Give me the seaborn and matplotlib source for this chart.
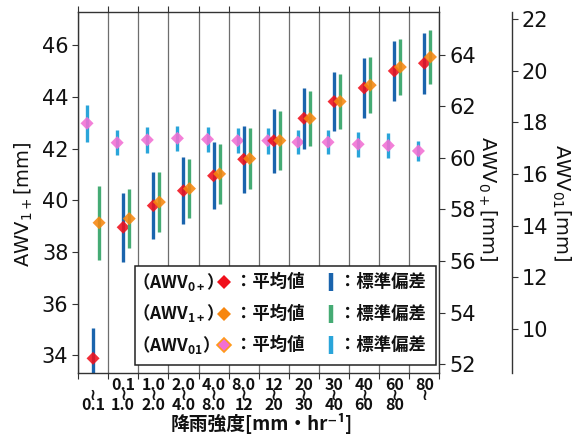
import numpy as np
import matplotlib
matplotlib.use("Agg")
import matplotlib.pyplot as plt
import seaborn as sns
from matplotlib.patches import Rectangle

# rainfall-intensity classes [mm/hr] (lower / upper bound of each class)
class_low = ["", "0.1", "1.0", "2.0", "4.0", "8.0", "12", "20", "30", "40", "60", "80"]
class_high = ["0.1", "1.0", "2.0", "4.0", "8.0", "12", "20", "30", "40", "60", "80", ""]

# AWV0+ (right axis 1)
awv0p_mean = [52.22, 57.31, 58.15, 58.73, 59.31, 59.95, 60.67, 61.54, 62.19, 62.72, 63.38, 63.68]
awv0p_sd = [1.19, 1.33, 1.31, 1.30, 1.30, 1.30, 1.24, 1.18, 1.14, 1.16, 1.18, 1.19]
# AWV1+ (left axis)
awv1p_mean = [39.13, 39.29, 39.93, 40.45, 41.02, 41.61, 42.31, 43.16, 43.82, 44.45, 45.15, 45.54]
awv1p_sd = [1.44, 1.14, 1.15, 1.15, 1.16, 1.18, 1.13, 1.08, 1.06, 1.07, 1.07, 1.05]
# AWV01 (right axis 2)
awv01_mean = [17.96, 17.21, 17.32, 17.38, 17.34, 17.29, 17.29, 17.23, 17.23, 17.15, 17.10, 16.89]
awv01_sd = [0.72, 0.49, 0.49, 0.49, 0.48, 0.48, 0.50, 0.47, 0.47, 0.48, 0.48, 0.38]

C_RED, C_BLUE = "#f0101c", "#1a64ad"
C_ORANGE, C_GREEN = "#f7860f", "#45ab74"
C_PINK, C_LBLUE = "#f26fd3", "#2aa5da"

sns.set_theme(style="ticks")
plt.rcParams["font.family"] = ["DejaVu Sans"]
plt.rcParams["mathtext.default"] = "regular"
CJK = ["Noto Sans CJK JP", "DejaVu Sans"]

n = len(awv1p_mean)
x = np.arange(n)
dx = 0.2

fig = plt.figure(figsize=(5.78, 4.34), dpi=100)
ax = fig.add_axes([78 / 578, 1 - 373.3 / 434, 361.5 / 578, 361.6 / 434])
ax0 = ax.twinx()
ax01 = ax.twinx()
ax01.spines["right"].set_position(("axes", (512 - 78) / 361.5))

# stacking: AWV01 at the back, AWV1+ in front
ax01.set_zorder(1)
ax0.set_zorder(2)
ax.set_zorder(3)
ax.patch.set_visible(False)

def series(a, xs, mean, sd, mcolor, bcolor, edge="none"):
    a.errorbar(xs, mean, yerr=sd, fmt="none", ecolor=bcolor, elinewidth=2.4,
               capsize=0, zorder=2)
    sns.scatterplot(x=xs, y=mean, ax=a, marker="D", s=44, color=mcolor,
                    edgecolor=edge, linewidth=0, alpha=0.88, zorder=3, legend=False)

series(ax01, x - dx, awv01_mean, awv01_sd, C_PINK, C_LBLUE)
series(ax0, x, awv0p_mean, awv0p_sd, C_RED, C_BLUE)
series(ax, x + dx, awv1p_mean, awv1p_sd, C_ORANGE, C_GREEN)

ax.set_xlim(-0.5, n - 0.5)
ax.set_ylim(33.31, 47.29)
ax0.set_ylim(51.64, 65.68)
ax01.set_ylim(8.285, 22.28)
ax.set_yticks(np.arange(34, 47, 2))
ax0.set_yticks(np.arange(52, 65, 2))
ax01.set_yticks(np.arange(10, 23, 2))

# spines
spc = "#333333"
for s in ["left", "bottom", "top"]:
    ax.spines[s].set_color(spc)
    ax.spines[s].set_linewidth(1.0)
ax.spines["right"].set_visible(False)
for s in ["left", "bottom", "top"]:
    ax0.spines[s].set_visible(False)
    ax01.spines[s].set_visible(False)
ax0.spines["right"].set_color(spc)
ax0.spines["right"].set_linewidth(1.0)
ax01.spines["right"].set_color(spc)
ax01.spines["right"].set_linewidth(1.0)

for a in (ax, ax0, ax01):
    a.tick_params(axis="y", length=4, width=0.8, color=spc, labelsize=15, pad=3,
                  labelcolor="#111111")

# x axis: class boundaries as minor ticks / grid, labels at class centres
ax.set_xticks(np.arange(-0.5, n, 1), minor=True)
ax.set_xticks(x)
ax.set_xticklabels([f"{lo}\n≀\n{hi}" for lo, hi in zip(class_low, class_high)],
                   fontfamily=CJK, fontweight="bold", fontsize=11.5, linespacing=0.53)
ax.tick_params(axis="x", which="major", length=0, pad=3, labelcolor="#111111")
ax.tick_params(axis="x", which="minor", length=4, width=0.8, color=spc,
               direction="out", top=True, bottom=True)
ax.grid(True, which="minor", axis="x", color="#6e6e6e", linewidth=0.9)
ax.grid(False, which="major")
ax0.grid(False)
ax01.grid(False)

ax.set_xlabel("降雨強度[mm・hr⁻¹]", fontfamily=CJK, fontweight="bold",
              fontsize=13.5, va="center", color="#111111")
ax.xaxis.set_label_coords(0.509, (373.3 - 423.0) / 361.6)

ax.set_ylabel("AWV$_{1+}$[mm]", fontsize=14, va="center", color="#111111")
ax.yaxis.set_label_coords(-0.149, 0.468)
ax0.set_ylabel("AWV$_{0+}$[mm]", fontsize=14, rotation=-90, va="center", color="#111111")
ax0.yaxis.set_label_coords(1.131, 0.482)
ax01.set_ylabel("AWV$_{01}$[mm]", fontsize=14, rotation=-90, va="center", color="#111111")
ax01.yaxis.set_label_coords(1.336, 0.471)

# key box
def fx(px):
    return (px - 78) / 361.5

def fy(py):
    return (373.3 - py) / 361.6

ax.add_patch(Rectangle((fx(135), fy(365)), fx(436) - fx(135), fy(266) - fy(365),
                       transform=ax.transAxes, facecolor="white", edgecolor="#222222",
                       linewidth=1.1, zorder=5, clip_on=False))
rows = [("（AWV$_{0+}$）", C_RED, "none", C_BLUE, 282),
        ("（AWV$_{1+}$）", C_ORANGE, "none", C_GREEN, 313.5),
        ("（AWV$_{01}$）", C_PINK, "#ff9a1a", C_LBLUE, 345)]
tkw = dict(transform=ax.transAxes, fontfamily=CJK, fontweight="bold", fontsize=12.5,
           va="center", ha="left", color="#111111", zorder=6)
for name, mc, me, bc, py in rows:
    ax.text(fx(132), fy(py), name, **tkw)
    ax.plot([fx(224)], [fy(py)], marker="D", ms=7.4, color=mc, mec=me,
            mew=1.2 if me != "none" else 0, transform=ax.transAxes, clip_on=False,
            zorder=6, linestyle="none")
    ax.text(fx(235), fy(py), "：平均値", **tkw)
    ax.plot([fx(331.5)], [fy(py)], marker="|", ms=13.5, mew=3.2, color=bc,
            transform=ax.transAxes, clip_on=False, zorder=6, linestyle="none")
    ax.text(fx(339), fy(py), "：標準偏差", **tkw)

fig.savefig("out.png", dpi=100)
